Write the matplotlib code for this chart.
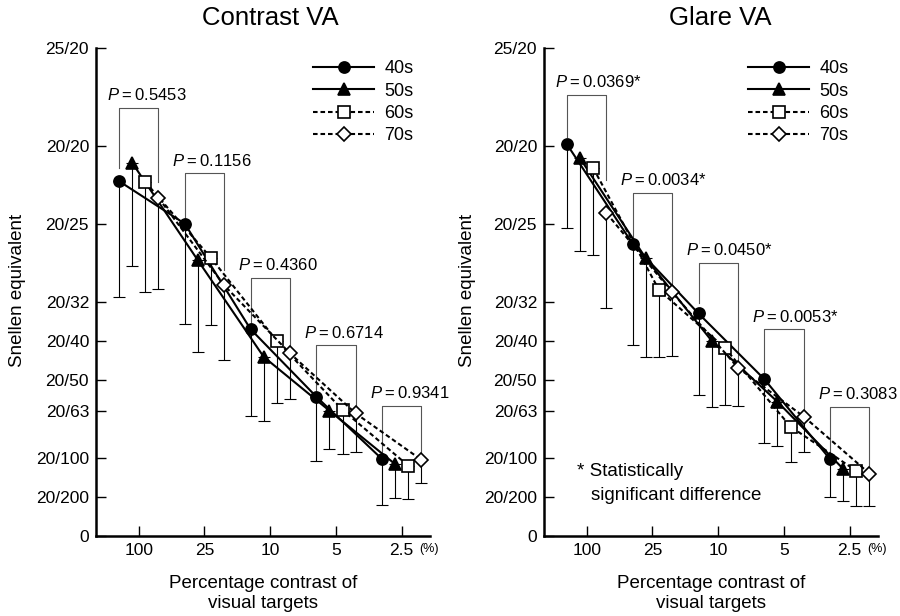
import numpy as np
import matplotlib
matplotlib.use('Agg')
import matplotlib.pyplot as plt

plt.rcParams['font.family'] = ['Liberation Sans', 'DejaVu Sans']
plt.rcParams['mathtext.fontset'] = 'custom'
plt.rcParams['mathtext.it'] = 'Liberation Sans:italic'
plt.rcParams['mathtext.rm'] = 'Liberation Sans'

contrast_labels = ['100', '25', '10', '5', '2.5']
groups = ['40s', '50s', '60s', '70s']
snellen_labels = ['0', '20/200', '20/100', '20/63', '20/50', '20/40',
                  '20/32', '20/25', '20/20', '25/20']
snellen_decimal = [0, 0.1, 0.2, 0.32, 0.4, 0.5, 0.6, 0.8, 1.0, 1.25]

# Contrast VA: mean (decimal) and lower end of the SD bar
cva_40 = [0.909, 0.800, 0.530, 0.357, 0.197]
cva_50 = [0.956, 0.706, 0.459, 0.321, 0.184]
cva_60 = [0.907, 0.712, 0.500, 0.323, 0.180]
cva_70 = [0.866, 0.642, 0.468, 0.314, 0.195]
cva_40_low = [0.612, 0.543, 0.308, 0.193, 0.080]
cva_50_low = [0.692, 0.472, 0.295, 0.222, 0.098]
cva_60_low = [0.626, 0.541, 0.340, 0.210, 0.096]
cva_70_low = [0.632, 0.452, 0.351, 0.216, 0.137]
cva_p = ['0.5453', '0.1156', '0.4360', '0.6714', '0.9341']

# Glare VA
gva_40 = [1.003, 0.748, 0.570, 0.402, 0.197]
gva_50 = [0.967, 0.711, 0.500, 0.344, 0.172]
gva_60 = [0.942, 0.630, 0.482, 0.280, 0.167]
gva_70 = [0.827, 0.624, 0.431, 0.306, 0.160]
gva_40_low = [0.788, 0.489, 0.361, 0.237, 0.100]
gva_50_low = [0.730, 0.459, 0.330, 0.231, 0.090]
gva_60_low = [0.720, 0.458, 0.336, 0.189, 0.078]
gva_70_low = [0.585, 0.461, 0.333, 0.216, 0.078]
gva_p = ['0.0369*', '0.0034*', '0.0450*', '0.0053*', '0.3083']

# bracket geometry (top, left leg end, right leg end)
cva_br_top = [1.097, 0.929, 0.662, 0.488, 0.333]
cva_br_left = [0.943, 0.805, 0.540, 0.370, 0.213]
cva_br_right = [0.908, 0.681, 0.485, 0.331, 0.213]
gva_br_top = [1.130, 0.879, 0.699, 0.529, 0.331]
gva_br_left = [1.023, 0.767, 0.597, 0.414, 0.213]
gva_br_right = [0.912, 0.639, 0.448, 0.318, 0.178]

offsets = [-0.3, -0.1, 0.1, 0.3]
dash = (0, (2.2, 1.4))
styles = [
    dict(ls='-', marker='o', mfc='black', ms=8),
    dict(ls='-', marker='^', mfc='black', ms=8.5),
    dict(ls=dash, marker='s', mfc='white', ms=8.5),
    dict(ls=dash, marker='D', mfc='white', ms=7.5),
]


def draw_panel(ax, means, lows, pvals, br_top, br_left, br_right):
    x = np.arange(1, len(contrast_labels) + 1)
    for k in range(4):
        xs = x + offsets[k]
        m = np.array(means[k])
        lo = np.array(lows[k])
        ax.errorbar(xs, m, yerr=[m - lo, np.zeros_like(m)], fmt='none',
                    ecolor='black', elinewidth=0.8, capsize=4.5,
                    capthick=0.8, zorder=1)
    for k in range(4):
        st = styles[k]
        ax.plot(x + offsets[k], means[k], color='black', lw=1.5,
                ls=st['ls'], marker=st['marker'], ms=st['ms'],
                mfc=st['mfc'], mec='black', mew=1.2, label=groups[k],
                zorder=3 + k)

    for i in range(len(x)):
        xl = x[i] + offsets[0]
        xr = x[i] + offsets[3]
        ax.plot([xl, xl, xr, xr], [br_left[i], br_top[i], br_top[i], br_right[i]],
                color='#555555', lw=0.8, zorder=2)
        ax.text(xl - 0.19, br_top[i] + 0.012, r'$P$' + '\u2009=\u2009' + pvals[i],
                fontsize=12, ha='left', va='bottom')

    ax.set_xlim(0.35, 5.43)
    ax.set_ylim(0, 1.25)
    ax.set_xticks(x)
    ax.set_xticklabels(contrast_labels, fontsize=12.5)
    ax.set_yticks(snellen_decimal)
    ax.set_yticklabels(snellen_labels, fontsize=12.5)
    ax.tick_params(axis='both', direction='in', length=7, width=1)
    ax.tick_params(axis='x', pad=5)
    ax.tick_params(axis='y', pad=5)
    for s in ['top', 'right']:
        ax.spines[s].set_visible(False)
    for s in ['left', 'bottom']:
        ax.spines[s].set_linewidth(1.8)
    ax.annotate('(%)', xy=(5.41, 0), xytext=(0, -5), textcoords='offset points',
                ha='center', va='top', fontsize=9)
    ax.text(0.5, -0.079, 'Percentage contrast of\nvisual targets',
            transform=ax.transAxes, ha='center', va='top', fontsize=13.5,
            linespacing=1.25)


fig = plt.figure(figsize=(9, 6.16), dpi=100)
ax1 = fig.add_axes([96 / 900, 1 - 536 / 616, 334 / 900, 488 / 616])
ax2 = fig.add_axes([544 / 900, 1 - 536 / 616, 334 / 900, 488 / 616])

draw_panel(ax1, [cva_40, cva_50, cva_60, cva_70],
           [cva_40_low, cva_50_low, cva_60_low, cva_70_low],
           cva_p, cva_br_top, cva_br_left, cva_br_right)
draw_panel(ax2, [gva_40, gva_50, gva_60, gva_70],
           [gva_40_low, gva_50_low, gva_60_low, gva_70_low],
           gva_p, gva_br_top, gva_br_left, gva_br_right)

for ax, xa in [(ax1, 0.65), (ax2, 0.611)]:
    ax.legend(loc='upper left', bbox_to_anchor=(xa, 0.975), frameon=False,
              fontsize=13, handlelength=3.4, handletextpad=0.55,
              labelspacing=0.3, borderpad=0, borderaxespad=0)

ax2.text(0.85, 0.164, '* Statistically', fontsize=13.5, ha='left', va='center')
ax2.text(1.07, 0.105, 'significant difference', fontsize=13.5, ha='left', va='center')

fig.text(270 / 900, 1 - 18 / 616, 'Contrast VA', fontsize=18.5, ha='center', va='center')
fig.text(720 / 900, 1 - 18 / 616, 'Glare VA', fontsize=18.5, ha='center', va='center')
fig.text(18 / 900, 1 - 290 / 616, 'Snellen equivalent', rotation=90,
         fontsize=13.5, ha='center', va='center')
fig.text(468 / 900, 1 - 290 / 616, 'Snellen equivalent', rotation=90,
         fontsize=13.5, ha='center', va='center')

fig.savefig('out.png', dpi=100)
